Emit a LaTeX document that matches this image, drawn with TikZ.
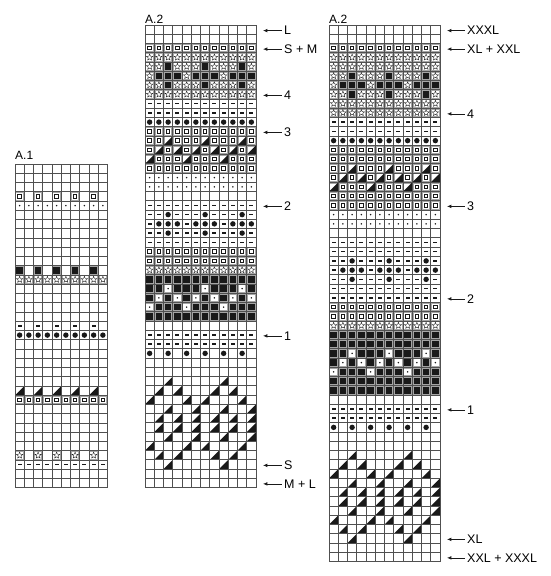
\documentclass[tikz,border=0pt]{standalone}
\usepackage{fontspec}
\setmainfont{Liberation Sans}
\usetikzlibrary{arrows.meta,positioning,shapes.geometric}
\definecolor{ink}{RGB}{25,25,25}
\definecolor{gridc}{RGB}{80,80,80}
\definecolor{frm}{RGB}{165,165,165}
\tikzset{
  gridln/.style={draw=gridc,line width=0.6pt},
  cellfr/.style={draw=frm,line width=1.1pt},
  lbl/.style={font=\fontsize{12}{14}\selectfont,inner sep=0pt,anchor=base west},
  szlbl/.style={font=\fontsize{12.5}{14}\selectfont,inner sep=2pt,anchor=west},
  arr/.style={{Latex[length=1.5mm,width=1.2mm]}-,line width=0.55pt,ink},
  pics/symsq/.style={code={
    \draw[cellfr] (-0.41,-0.41) rectangle (0.41,0.41);
    \draw[ink,line width=0.9pt,fill=white] (-0.19,-0.19) rectangle (0.19,0.19);}},
  pics/symstar/.style={code={
    \draw[cellfr] (-0.41,-0.41) rectangle (0.41,0.41);
    \node[star,star points=5,star point ratio=2.3,draw=ink,line width=0.4pt,
      inner sep=0pt,minimum size=6.6pt] {};}},
  pics/symblk/.style={code={
    \draw[cellfr] (-0.41,-0.41) rectangle (0.41,0.41);
    \fill[ink] (-0.35,-0.35) rectangle (0.35,0.35);}},
  pics/symwdot/.style={code={
    \draw[cellfr] (-0.41,-0.41) rectangle (0.41,0.41);
    \fill[ink] (0,0) circle[radius=0.85pt];}},
  pics/symtri/.style={code={
    \draw[cellfr] (-0.41,-0.41) rectangle (0.41,0.41);
    \fill[ink] (-0.5,0.5) -- (0.5,0.5) -- (0.5,-0.5) -- cycle;}},
  pics/symtrb/.style={code={
    \fill[ink] (-0.5,0.5) -- (0.5,0.5) -- (0.5,-0.5) -- cycle;}},
  pics/symdash/.style={code={
    \fill[ink] (-0.22,-0.09) rectangle (0.22,0.09);}},
  pics/symdot/.style={code={
    \fill[ink] (0,0) circle[radius=0.85pt];}},
  pics/symbig/.style={code={
    \fill[ink] (0,0) circle[radius=2.7pt];}},
}
% one row of symbols: pic, row, columns
\newcommand{\symrow}[3]{\foreach \c in {#3} {\pic at ({\c-0.5},{#2-0.5}) {#1};}}
% the chart lines: columns, rows
\newcommand{\chartgrid}[2]{%
  \foreach \i in {0,...,#1} \draw[gridln] (\i,0) -- (\i,#2);
  \foreach \j in {0,...,#2} \draw[gridln] (0,\j) -- (#1,\j);}
% the slanted block at the foot of A.2, first row given
\newcommand{\tripat}[1]{%
  \symrow{symtrb}{#1}{3,9}
  \symrow{symtrb}{#1+1}{2,4,8,10}
  \symrow{symtrb}{#1+2}{1,5,7,11}
  \symrow{symtrb}{#1+3}{3,6,9,12}
  \symrow{symtrb}{#1+4}{2,4,6,8,10,12}
  \symrow{symtrb}{#1+5}{2,4,6,8,10,12}
  \symrow{symtrb}{#1+6}{3,6,9,12}
  \symrow{symtrb}{#1+7}{1,5,7,11}
  \symrow{symtrb}{#1+8}{2,4,8,10}
  \symrow{symtrb}{#1+9}{3,9}}

\begin{document}
\begin{tikzpicture}[x=1pt,y=-1pt]
\useasboundingbox (0,0) rectangle (550,576);

% A.1
\node[lbl] (tA) at (15,159) {A.1};
\begin{scope}[shift={(15pt,-164pt)},x=9.25pt,y=-9.25pt]
  \symrow{symsq}{4}{1,3,...,9}
  \symrow{symdot}{5}{1,...,10}
  \symrow{symblk}{12}{1,3,...,9}
  \symrow{symstar}{13}{1,...,10}
  \symrow{symdash}{18}{1,3,...,9}
  \symrow{symbig}{19}{1,...,10}
  \symrow{symtrb}{25}{1,3,...,9}
  \symrow{symsq}{26}{1,...,10}
  \symrow{symstar}{32}{1,3,...,9}
  \symrow{symdash}{33}{1,...,10}
  \chartgrid{10}{35}
\end{scope}

% A.2, sizes S to L
\node[lbl] (tB) at (145,23) {A.2};
\begin{scope}[shift={(145pt,-25pt)},x=9.25pt,y=-9.25pt]
  \symrow{symsq}{3}{1,...,12}
  \symrow{symstar}{4}{1,...,12}
  \symrow{symstar}{5}{1,2,4,5,6,8,9,10,12}
  \symrow{symblk}{5}{3,7,11}
  \symrow{symstar}{6}{1,5,9}
  \symrow{symblk}{6}{2,3,4,6,7,8,10,11,12}
  \symrow{symstar}{7}{1,2,4,5,6,8,9,10,12}
  \symrow{symblk}{7}{3,7,11}
  \symrow{symstar}{8}{1,...,12}
  \symrow{symdash}{9}{1,...,12}
  \symrow{symdash}{10}{1,...,12}
  \symrow{symbig}{11}{1,...,12}
  \symrow{symsq}{12}{1,...,12}
  \symrow{symsq}{13}{1,2,4,5,6,8,9,10,12}
  \symrow{symtri}{13}{3,7,11}
  \symrow{symsq}{14}{1,3,...,11}
  \symrow{symtri}{14}{2,4,...,12}
  \symrow{symtri}{15}{1,5,9}
  \symrow{symsq}{15}{2,3,4,6,7,8,10,11,12}
  \symrow{symsq}{16}{1,...,12}
  \symrow{symdot}{17}{1,...,12}
  \symrow{symdot}{18}{1,...,12}
  \symrow{symdash}{20}{1,...,12}
  \symrow{symdash}{21}{1,2,4,5,6,8,9,10,12}
  \symrow{symbig}{21}{3,7,11}
  \symrow{symdash}{22}{1,5,9}
  \symrow{symbig}{22}{2,3,4,6,7,8,10,11,12}
  \symrow{symdash}{23}{1,2,4,5,6,8,9,10,12}
  \symrow{symbig}{23}{3,7,11}
  \symrow{symdash}{24}{1,...,12}
  \symrow{symsq}{25}{1,...,12}
  \symrow{symsq}{26}{1,...,12}
  \symrow{symstar}{27}{1,...,12}
  \symrow{symblk}{28}{1,...,12}
  \symrow{symblk}{29}{1,2,4,5,6,8,9,10,12}
  \symrow{symwdot}{29}{3,7,11}
  \symrow{symblk}{30}{1,3,...,11}
  \symrow{symwdot}{30}{2,4,...,12}
  \symrow{symwdot}{31}{1,5,9}
  \symrow{symblk}{31}{2,3,4,6,7,8,10,11,12}
  \symrow{symblk}{32}{1,...,12}
  \symrow{symdash}{34}{1,...,12}
  \symrow{symdash}{35}{1,...,12}
  \symrow{symbig}{36}{1,3,...,11}
  \tripat{39}
  \chartgrid{12}{50}
\end{scope}

% A.2, sizes XL to XXXL
\node[lbl] (tC) at (329,23) {A.2};
\begin{scope}[shift={(329pt,-25pt)},x=9.25pt,y=-9.25pt]
  \symrow{symsq}{3}{1,...,12}
  \symrow{symstar}{4}{1,...,12}
  \symrow{symstar}{5}{1,...,12}
  \symrow{symstar}{6}{1,2,4,5,6,8,9,10,12}
  \symrow{symblk}{6}{3,7,11}
  \symrow{symstar}{7}{1,5,9}
  \symrow{symblk}{7}{2,3,4,6,7,8,10,11,12}
  \symrow{symstar}{8}{1,2,4,5,6,8,9,10,12}
  \symrow{symblk}{8}{3,7,11}
  \symrow{symstar}{9}{1,...,12}
  \symrow{symstar}{10}{1,...,12}
  \symrow{symdash}{11}{1,...,12}
  \symrow{symdash}{12}{1,...,12}
  \symrow{symbig}{13}{1,...,12}
  \symrow{symsq}{14}{1,...,12}
  \symrow{symsq}{15}{1,...,12}
  \symrow{symsq}{16}{1,2,4,5,6,8,9,10,12}
  \symrow{symtri}{16}{3,7,11}
  \symrow{symsq}{17}{1,3,...,11}
  \symrow{symtri}{17}{2,4,...,12}
  \symrow{symtri}{18}{1,5,9}
  \symrow{symsq}{18}{2,3,4,6,7,8,10,11,12}
  \symrow{symsq}{19}{1,...,12}
  \symrow{symsq}{20}{1,...,12}
  \symrow{symdot}{21}{1,...,12}
  \symrow{symdot}{22}{1,...,12}
  \symrow{symdash}{24}{1,...,12}
  \symrow{symdash}{25}{1,...,12}
  \symrow{symdash}{26}{1,2,4,5,6,8,9,10,12}
  \symrow{symbig}{26}{3,7,11}
  \symrow{symdash}{27}{1,5,9}
  \symrow{symbig}{27}{2,3,4,6,7,8,10,11,12}
  \symrow{symdash}{28}{1,2,4,5,6,8,9,10,12}
  \symrow{symbig}{28}{3,7,11}
  \symrow{symdash}{29}{1,...,12}
  \symrow{symdash}{30}{1,...,12}
  \symrow{symsq}{31}{1,...,12}
  \symrow{symsq}{32}{1,...,12}
  \symrow{symstar}{33}{1,...,12}
  \symrow{symblk}{34}{1,...,12}
  \symrow{symblk}{35}{1,...,12}
  \symrow{symblk}{36}{1,2,4,5,6,8,9,10,12}
  \symrow{symwdot}{36}{3,7,11}
  \symrow{symblk}{37}{1,3,...,11}
  \symrow{symwdot}{37}{2,4,...,12}
  \symrow{symwdot}{38}{1,5,9}
  \symrow{symblk}{38}{2,3,4,6,7,8,10,11,12}
  \symrow{symblk}{39}{1,...,12}
  \symrow{symblk}{40}{1,...,12}
  \symrow{symdash}{42}{1,...,12}
  \symrow{symdash}{43}{1,...,12}
  \symrow{symbig}{44}{1,3,...,11}
  \tripat{47}
  \chartgrid{12}{58}
\end{scope}

% size markers
\foreach \r/\t/\n in {1/L/a,3/S + M/b,8/4/c,12/3/d,20/2/e,34/1/f,48/S/g,50/M + L/h} {
  \coordinate (mtip\n) at (263,{26+(\r-0.5)*9.25});
  \node[szlbl] (m\n) at (282,{26+(\r-0.5)*9.25}) {\t};
  \draw[arr] (mtip\n) -- (m\n);
}
\foreach \r/\t/\n in {1/XXXL/a,3/XL + XXL/b,10/4/c,20/3/d,30/2/e,42/1/f,56/XL/g,58/XXL + XXXL/h} {
  \coordinate (rtip\n) at (447,{26+(\r-0.5)*9.25});
  \node[szlbl] (r\n) at (465,{26+(\r-0.5)*9.25}) {\t};
  \draw[arr] (rtip\n) -- (r\n);
}
\end{tikzpicture}
\end{document}
